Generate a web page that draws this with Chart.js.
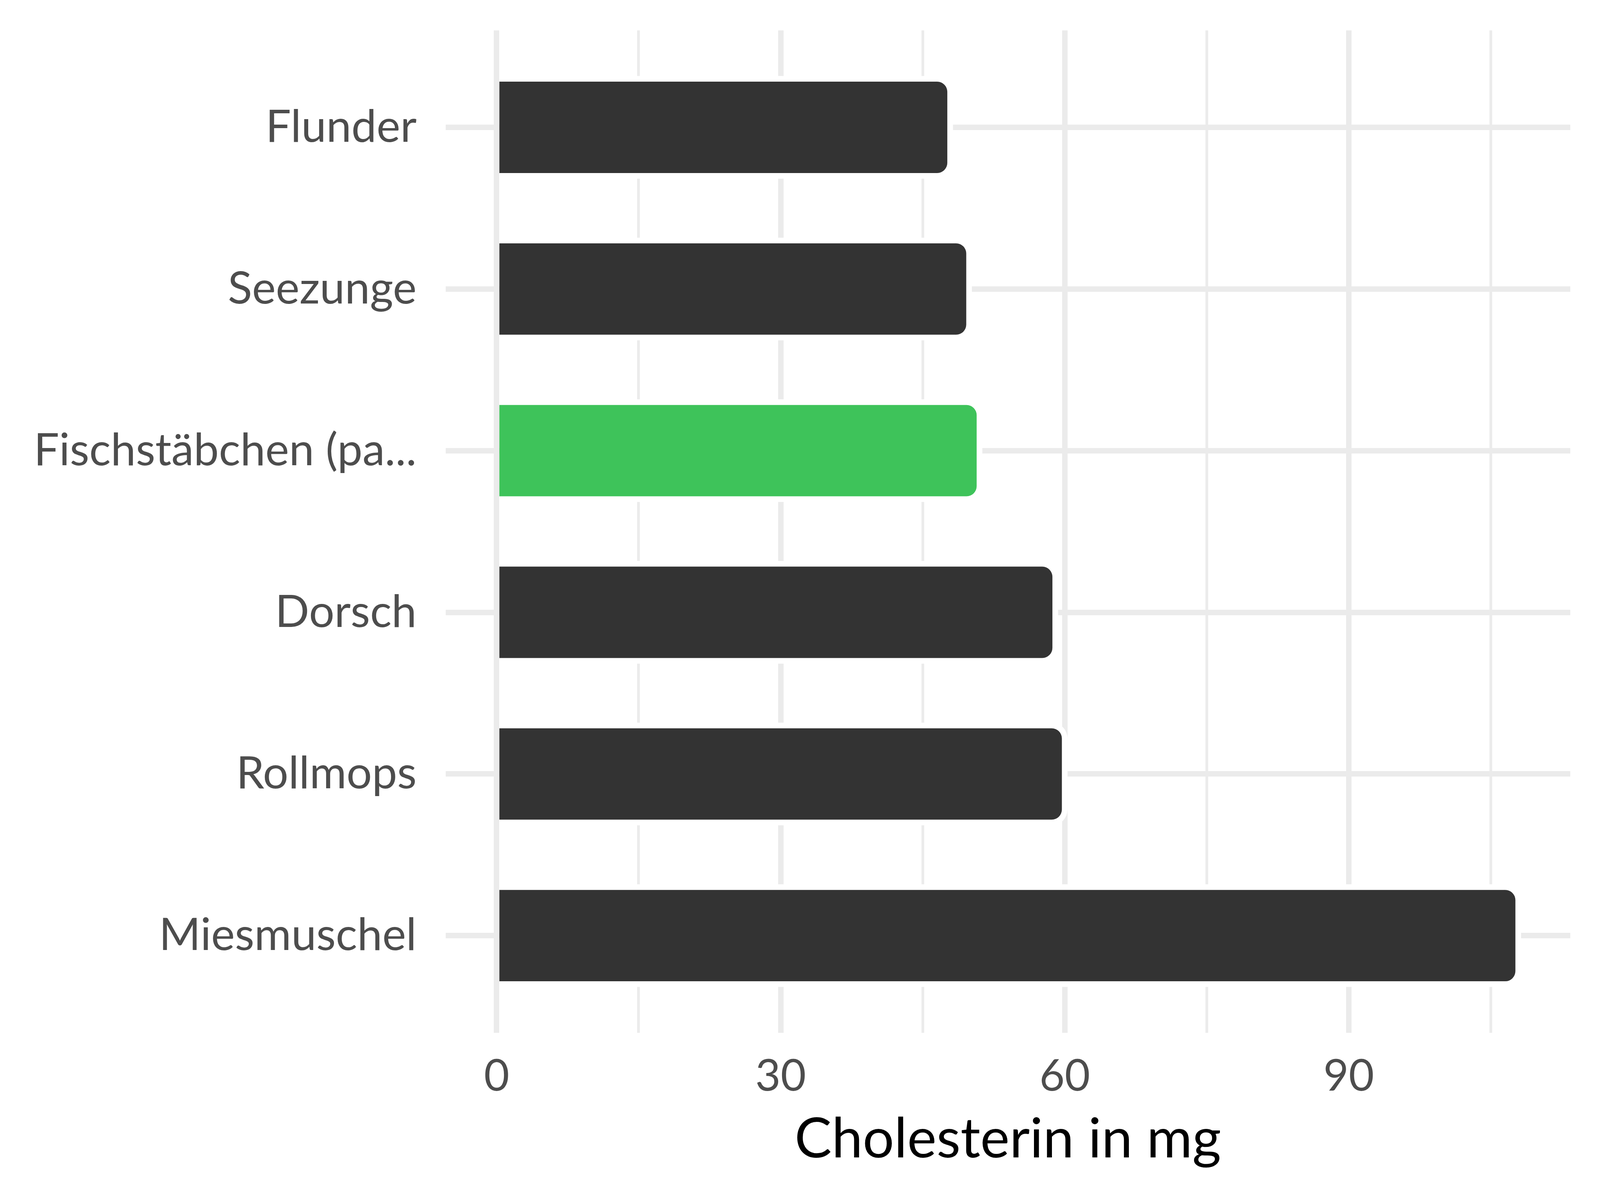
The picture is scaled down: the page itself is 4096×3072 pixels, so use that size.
<!DOCTYPE html>
<html>
<head>
<meta charset="utf-8">
<script src="https://cdn.jsdelivr.net/npm/chart.js@4/dist/chart.umd.min.js"></script>
<style>
  html, body { margin: 0; padding: 0; background: #fff; }
  #wrap { width: 4096px; height: 3072px; }
</style>
</head>
<body>
<div id="wrap"><canvas id="chart" width="4096" height="3072"></canvas></div>
<script>
// 1. DATA
const categories = ['Flunder', 'Seezunge', 'Fischstäbchen (pa...', 'Dorsch', 'Rollmops', 'Miesmuschel'];
const cholesterin = [47.6, 49.6, 50.7, 58.7, 59.7, 107.6];
const highlighted = 'Fischstäbchen (pa...';
const xTicks = [0, 15, 30, 45, 60, 75, 90, 105];
const xLabelled = [0, 30, 60, 90];
const xTitle = 'Cholesterin in mg';

// 2. STYLE
const FONT = 'Lato';
const GRID = '#EBEBEB';
const DARK = '#333333';
const GREEN = '#3EC35A';

// white halo round each bar (as in the reference), drawn before the bars
const haloPlugin = {
  id: 'halo',
  beforeDatasetsDraw(chart) {
    const ctx = chart.ctx;
    const h = 14.5;
    const r = 26 + h;
    chart.getDatasetMeta(0).data.forEach(el => {
      const p = el.getProps(['x', 'y', 'base', 'height'], true);
      const x0 = p.base + 7;
      const x1 = p.x + h;
      const y0 = p.y - p.height / 2 - h;
      const y1 = p.y + p.height / 2 + h;
      ctx.save();
      ctx.fillStyle = '#ffffff';
      ctx.beginPath();
      ctx.moveTo(x0, y0);
      ctx.lineTo(x1 - r, y0);
      ctx.arcTo(x1, y0, x1, y0 + r, r);
      ctx.lineTo(x1, y1 - r);
      ctx.arcTo(x1, y1, x1 - r, y1, r);
      ctx.lineTo(x0, y1);
      ctx.closePath();
      ctx.fill();
      ctx.restore();
    });
  }
};

const points = categories.map((c, i) => ({ x: cholesterin[i], y: i + 1 }));

new Chart(document.getElementById('chart').getContext('2d'), {
  type: 'bar',
  data: {
    datasets: [{
      data: points,
      backgroundColor: categories.map(c => c === highlighted ? GREEN : DARK),
      borderWidth: 0,
      borderRadius: { topLeft: 0, bottomLeft: 0, topRight: 26, bottomRight: 26 },
      borderSkipped: false,
      barPercentage: 0.565,
      categoryPercentage: 1
    }]
  },
  plugins: [haloPlugin],
  options: {
    indexAxis: 'y',
    responsive: false,
    devicePixelRatio: 1,
    animation: false,
    layout: { padding: { top: 77.7, right: 76, bottom: 0, left: 0 } },
    plugins: {
      legend: { display: false },
      tooltip: { enabled: false }
    },
    scales: {
      x: {
        type: 'linear',
        min: -5.4,
        max: 113.4,
        afterBuildTicks: s => { s.ticks = xTicks.map(v => ({ value: v })); },
        afterFit: s => { s.height = 3072 - 2643.5; s.paddingLeft = 0; s.paddingRight = 0; },
        border: { display: false },
        grid: {
          color: GRID,
          drawTicks: false,
          lineWidth: c => (c.tick && xLabelled.includes(c.tick.value)) ? 14 : 7
        },
        ticks: {
          autoSkip: false,
          maxRotation: 0,
          padding: 45,
          color: '#4D4D4D',
          font: { family: FONT, size: 112 },
          callback: v => xLabelled.includes(v) ? String(v) : ''
        },
        title: {
          display: true,
          text: xTitle,
          color: '#000000',
          font: { family: FONT, size: 142 },
          padding: { top: 0, bottom: 70 }
        }
      },
      y: {
        type: 'linear',
        reverse: true,
        offset: false,
        min: 0.4,
        max: 6.6,
        afterBuildTicks: s => { s.ticks = categories.map((c, i) => ({ value: i + 1 })); },
        afterFit: s => { s.width = 1140.5; s.paddingTop = 0; s.paddingBottom = 0; },
        border: { display: false },
        grid: { color: GRID, drawTicks: false, offset: false, lineWidth: 14 },
        ticks: {
          autoSkip: false,
          padding: 74,
          color: '#4D4D4D',
          font: { family: FONT, size: 115 },
          callback: v => categories[v - 1] || ''
        }
      }
    }
  }
});
</script>
</body>
</html>
